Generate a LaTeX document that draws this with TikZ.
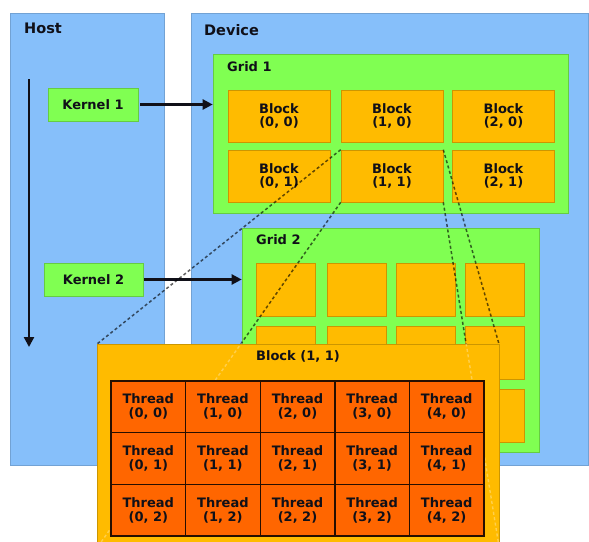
\documentclass[tikz,border=0pt]{standalone}
\usepackage{fontspec}
\setmainfont{DejaVu Sans}
\usetikzlibrary{arrows.meta}

\definecolor{paneblue}{HTML}{86BFFA}
\definecolor{gridgreen}{HTML}{80FF52}
\definecolor{blockorange}{HTML}{FFBB00}
\definecolor{threadred}{HTML}{FF6600}
\definecolor{inkdark}{HTML}{101018}

\tikzset{
  rect/.style 2 args={rectangle, inner sep=0pt, minimum width=#1, minimum height=#2},
  pane/.style={fill=paneblue, draw=paneblue!85!black, line width=0.5pt},
  gridbox/.style={fill=gridgreen, draw=gridgreen!80!black, line width=0.6pt},
  blockbox/.style={fill=blockorange, draw=blockorange!80!black, line width=0.6pt,
    align=center, text=inkdark, font=\fontsize{13}{13.8}\selectfont\bfseries},
  threadbox/.style={fill=threadred, draw=black!85!threadred, line width=1.4pt,
    align=center, text=inkdark, font=\fontsize{13}{14.2}\selectfont\bfseries},
  title/.style={text=inkdark, inner sep=0pt, anchor=west, font=\fontsize{14.5}{16}\selectfont\bfseries},
  label/.style={text=inkdark, inner sep=0pt, anchor=west, font=\fontsize{13}{14}\selectfont\bfseries},
  flow/.style={draw=inkdark, line width=2.3pt, -{Triangle[length=10pt, width=10pt]}},
  zoomline/.style={draw=black, draw opacity=0.62, line width=1.5pt, dash pattern=on 3pt off 2.5pt},
  zoomfaint/.style={draw=white, draw opacity=0.3, line width=1.4pt, dash pattern=on 3pt off 2.5pt},
}

\begin{document}
\begin{tikzpicture}[x=1pt, y=-1pt]
\useasboundingbox (0,0) rectangle (589,541);
\clip (0,0) rectangle (589,541);

% host and device panes
\node[pane, rect={154pt}{452pt}] (host) at (87,239) {};
\node[pane, rect={397pt}{452pt}] (device) at (389.5,239) {};
\node[title] (hostlbl) at (24,28) {Host};
\node[title] (devlbl) at (204,30) {Device};

% kernels launched by the host
\node[gridbox, rect={90pt}{33pt}, text=inkdark, font=\fontsize{13}{14}\selectfont\bfseries] (k1) at (93,104.5) {Kernel 1};
\node[gridbox, rect={99pt}{33pt}, text=inkdark, font=\fontsize{13}{14}\selectfont\bfseries] (k2) at (93.5,279.5) {Kernel 2};

% host timeline
\coordinate (tstart) at (29,79);
\coordinate (tend) at (29,347);
\draw[flow] (tstart) -- (tend);

% grid 1 with its 3x2 blocks
\node[gridbox, rect={355pt}{159pt}] (grid1) at (390.5,133.5) {};
\node[label] (g1lbl) at (227,67) {Grid 1};
\foreach \i/\x in {0/279,1/392,2/503.5}
  \foreach \j/\y in {0/116,1/176}
    \node[blockbox, rect={102pt}{52pt}] (b\i\j) at (\x,\y) {Block\\(\i, \j)};

% grid 2 with its 4x3 blocks
\node[gridbox, rect={297pt}{224pt}] (grid2) at (390.5,340) {};
\node[label] (g2lbl) at (256,240) {Grid 2};
\foreach \i/\x in {0/286,1/356.5,2/426,3/495}
  \foreach \j/\y in {0/289.5,1/352.5,2/415.5}
    \node[blockbox, rect={59pt}{53pt}] (g\i\j) at (\x,\y) {};

% kernel launch arrows
\draw[flow, shorten <=2pt] (k1.east) -- (k1.east -| grid1.west);
\draw[flow, shorten <=1pt] (k2.east) -- (k2.east -| grid2.west);

% projection of block (1,1) onto its expanded view
\coordinate (ptl) at (97,344);
\coordinate (ptr) at (499,344);
\coordinate (pbl) at (97,548);
\coordinate (pbr) at (499,548);
\draw[zoomline] (b11.north west) -- (ptl);
\draw[zoomline] (b11.north east) -- (ptr);
\draw[zoomline] (b11.south west) -- (pbl);
\draw[zoomline] (b11.south east) -- (pbr);

% expanded block (1,1)
\node[blockbox, rect={402pt}{204pt}] (blk) at (298,446) {};
\begin{scope}
  \clip (blk.north west) rectangle (blk.south east);
  \draw[zoomfaint] (b11.south west) -- (blk.south west);
  \draw[zoomfaint] (b11.south east) -- (blk.south east);
\end{scope}

\node[inner sep=0pt, text=inkdark, font=\fontsize{13}{14}\selectfont\bfseries] (blklbl) at (298,356) {Block (1, 1)};

% 5x3 threads of the block
\foreach \i in {0,...,4}
  \foreach \j in {0,1,2}
    \node[threadbox, rect={74.6pt}{51.67pt}] (t\i\j) at ({111+74.6*(\i+0.5)},{381+51.67*(\j+0.5)}) {Thread\\(\i, \j)};

\end{tikzpicture}
\end{document}
